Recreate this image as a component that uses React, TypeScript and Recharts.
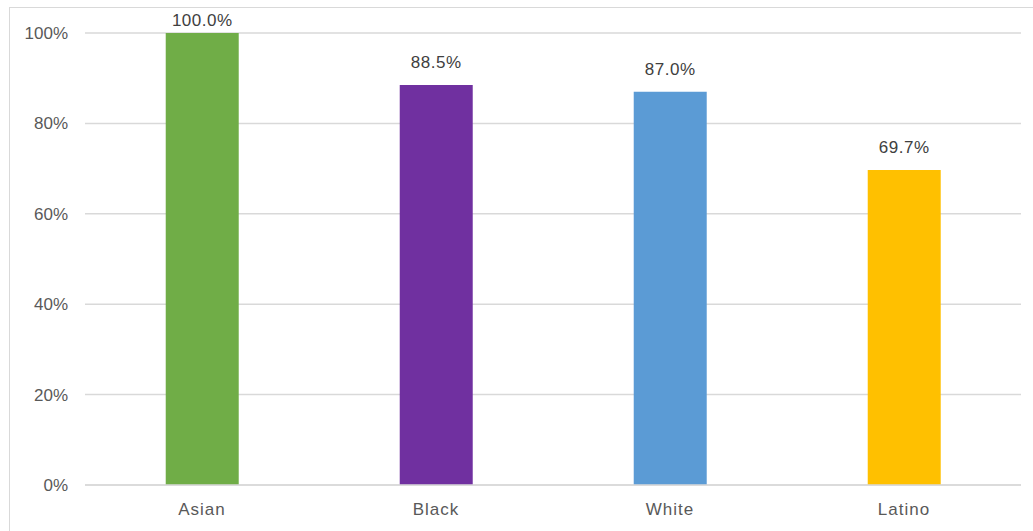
import { BarChart, Bar, XAxis, YAxis, CartesianGrid, Cell, LabelList } from "recharts";

const groups = ["Asian", "Black", "White", "Latino"];
const shares = [100.0, 88.5, 87.0, 69.7];
const barColors = ["#70ad47", "#7030a0", "#5b9bd5", "#ffc000"];
const yTicks = [0, 20, 40, 60, 80, 100];

const data = groups.map((g, i) => ({ name: g, value: shares[i] }));

const font = "'Liberation Sans', Arial, sans-serif";

// excel nudges the 100% label down so it stays inside the frame
const TopLabel = (props: any) => {
  const { x, y, width, value } = props;
  const ty = Math.max(y - 17, 26);
  return (
    <text x={x + width / 2} y={ty} textAnchor="middle" fill="#404040" fontSize={17} fontFamily={font} letterSpacing={0.5}>
      {Number(value).toFixed(1)}%
    </text>
  );
};

export default function App() {
  return (
    <div style={{ position: "absolute", left: 0, top: 0, width: 1033, height: 531, background: "#fff", overflow: "hidden" }}>
      <div style={{ position: "absolute", left: 9, top: 7, width: 1040, height: 540, border: "1.5px solid #d9d9d9", boxSizing: "border-box" }} />
      <BarChart width={1033} height={531} data={data} margin={{ top: 33, right: 12, bottom: 0, left: 0 }} barCategoryGap="34.5%">
        <CartesianGrid vertical={false} stroke="#d9d9d9" strokeWidth={1.5} />
        <XAxis dataKey="name" axisLine={{ stroke: "#d9d9d9", strokeWidth: 1.5 }} tickLine={false} tickSize={0} tickMargin={18} height={46}
          tick={{ fill: "#595959", fontSize: 17, fontFamily: font, letterSpacing: 1 }} />
        <YAxis domain={[0, 100]} ticks={yTicks} width={85} axisLine={false} tickLine={false} tickSize={0} tickMargin={17}
          tickFormatter={(v: number) => `${v}%`} tick={{ fill: "#595959", fontSize: 17, fontFamily: font }} />
        <Bar dataKey="value" isAnimationActive={false}>
          {data.map((d, i) => <Cell key={d.name} fill={barColors[i]} />)}
          <LabelList dataKey="value" content={<TopLabel />} />
        </Bar>
      </BarChart>
    </div>
  );
}
